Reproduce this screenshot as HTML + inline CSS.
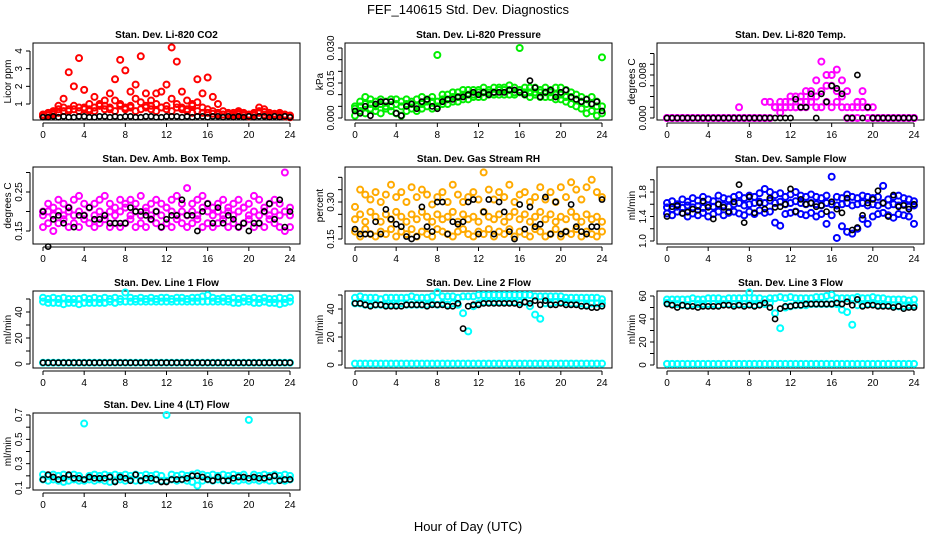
<!DOCTYPE html>
<html><head><meta charset="utf-8"><style>
html,body{margin:0;padding:0;background:#fff;}
svg{display:block;font-family:"Liberation Sans","DejaVu Sans",sans-serif;}
</style></head><body>
<svg id="chart" width="936" height="540" viewBox="0 0 936 540">
<text x="468" y="14" text-anchor="middle" font-size="13">FEF_140615  Std. Dev. Diagnostics</text>
<text x="468" y="531" text-anchor="middle" font-size="13">Hour of Day (UTC)</text>
</svg>
<script>
const hours = [0,0.5,1,1.5,2,2.5,3, 3.5,4,4.5,5,5.5,6,6.5, 7,7.5,8,8.5,9,9.5,10, 10.5,11,11.5,12,12.5,13,13.5, 14,14.5,15,15.5,16,16.5,17, 17.5,18,18.5,19,19.5,20,20.5, 21,21.5,22,22.5,23,23.5,24];
const xTicks = [0,4,8,12,16,20,24];

const co2Hi = [0.4,0.5,0.6,0.9,1.3,2.8,2.0, 3.6,1.8,1.0,1.4,0.9,1.2,1.6, 2.4,3.5,2.9,1.7,2.1,3.7,1.6, 1.2,1.6,1.7,2.1,4.2,3.4,1.7, 1.2,1.0,2.4,1.6,2.5,1.4,1.0, 0.6,0.5,0.5,0.6,0.5,0.4,0.5, 0.8,0.7,0.5,0.4,0.5,0.4,0.3];
const co2Mid = [0.4,0.45,0.5,0.7,0.8,0.6,0.7, 0.6,0.8,0.7,0.6,0.9,0.7,0.8, 0.6,0.9,0.7,0.8,0.6,0.7,0.8, 0.9,0.6,0.8,0.7,0.6,0.8,0.7, 0.6,0.5,0.6,0.5,0.5,0.45,0.4, 0.4,0.45,0.4,0.5,0.45,0.4,0.45, 0.6,0.55,0.4,0.45,0.4,0.4,0.35];
const co2Lo = [0.3,0.35,0.4,0.5,0.6,0.7,0.9, 0.8,0.7,0.6,0.8,1.0,0.9,0.7, 1.2,1.0,0.8,0.9,1.3,1.1,0.9, 0.7,1.0,0.8,0.9,1.3,1.0,0.8, 0.7,0.9,1.1,0.8,0.7,0.6,0.5, 0.4,0.4,0.3,0.4,0.35,0.3,0.35, 0.5,0.4,0.3,0.35,0.3,0.3,0.25];
const co2Black = [0.25,0.25,0.3,0.25,0.3,0.25,0.25, 0.3,0.3,0.25,0.25,0.3,0.3,0.25, 0.3,0.25,0.3,0.3,0.25,0.25,0.3, 0.3,0.25,0.25,0.3,0.3,0.3,0.25, 0.3,0.25,0.3,0.3,0.25,0.3,0.3, 0.25,0.3,0.25,0.3,0.25,0.3,0.25, 0.3,0.3,0.25,0.3,0.25,0.3,0.25];

const presHi = [0.005,0.007,0.009,0.008,0.007,0.008,0.007, 0.008,0.008,0.007,0.008,0.007,0.008,0.009, 0.008,0.009,0.027,0.010,0.010,0.011,0.011, 0.012,0.012,0.012,0.012,0.013,0.012,0.013, 0.013,0.013,0.014,0.013,0.030,0.013,0.013, 0.013,0.012,0.013,0.012,0.013,0.013,0.012, 0.011,0.010,0.009,0.008,0.009,0.007,0.026];
const presMid = [0.004,0.005,0.006,0.006,0.005,0.006,0.005, 0.005,0.006,0.005,0.006,0.006,0.005,0.006, 0.007,0.007,0.007,0.008,0.008,0.009,0.009, 0.010,0.010,0.010,0.011,0.011,0.011,0.011, 0.012,0.012,0.012,0.011,0.012,0.011,0.011, 0.011,0.011,0.011,0.011,0.010,0.010,0.009, 0.009,0.008,0.007,0.006,0.006,0.005,0.005];
const presLo = [0.001,0.003,0.002,0.004,0.003,0.002,0.004, 0.003,0.002,0.001,0.003,0.004,0.003,0.004, 0.005,0.004,0.005,0.006,0.006,0.007,0.007, 0.008,0.008,0.009,0.009,0.009,0.010,0.010, 0.010,0.010,0.010,0.010,0.011,0.010,0.009, 0.010,0.009,0.009,0.009,0.008,0.008,0.007, 0.006,0.005,0.004,0.002,0.003,0.001,0.002];
const presBlack = [0.003,0.002,0.005,0.001,0.006,0.007,0.007, 0.007,0.002,0.001,0.005,0.006,0.004,0.007, 0.008,0.005,0.004,0.007,0.008,0.008,0.009, 0.009,0.010,0.011,0.010,0.011,0.010,0.011, 0.011,0.011,0.012,0.012,0.011,0.010,0.016, 0.013,0.009,0.011,0.012,0.009,0.011,0.012, 0.009,0.008,0.007,0.008,0.006,0.007,0.003];

const tempHi = [0,0,0,0,0,0,0, 0,0,0,0,0,0,0, 0.002,0,0,0,0,0.003,0.003, 0.002,0.003,0.003,0.004,0.004,0.004,0.005, 0.005,0.007,0.0105,0.008,0.008,0.009,0.007, 0.005,0.002,0.003,0.005,0.002,0.002,0, 0,0,0,0,0,0,0];
const tempMid = [0,0,0,0,0,0,0, 0,0,0,0,0,0,0, 0,0,0,0,0,0,0, 0.002,0.002,0.002,0.003,0.002,0.003,0.003, 0.004,0.004,0.005,0.006,0.006,0.005,0.004, 0.002,0.002,0.002,0.003,0.002,0,0, 0,0,0,0,0,0,0];
const tempLo = [0,0,0,0,0,0,0, 0,0,0,0,0,0,0, 0,0,0,0,0,0,0, 0.002,0.001,0.002,0.002,0.002,0.002,0.002, 0.003,0.002,0.002,0.003,0.002,0.003,0.002, 0,0,0,0.002,0,0,0, 0,0,0,0,0,0,0];
const tempBlack = [0,0,0,0,0,0,0, 0,0,0,0,0,0,0, 0,0,0,0,0,0,0, 0,0,0,0,0.0035,0.002,0.002, 0.0045,0,0.0045,0.003,0.006,0.0055,0.0045, 0,0,0.008,0,0.002,0,0, 0,0,0,0,0,0,0];

const ambHi = [0.20,0.22,0.21,0.23,0.22,0.21,0.23, 0.24,0.22,0.21,0.22,0.23,0.24,0.22, 0.21,0.23,0.22,0.23,0.22,0.24,0.21, 0.22,0.23,0.22,0.21,0.23,0.24,0.22, 0.26,0.22,0.23,0.24,0.22,0.21,0.22, 0.23,0.21,0.22,0.23,0.21,0.22,0.24, 0.23,0.21,0.22,0.23,0.22,0.30,0.21];
const ambMid = [0.19,0.20,0.19,0.20,0.19,0.20,0.19, 0.20,0.19,0.21,0.19,0.20,0.19,0.20, 0.19,0.20,0.21,0.19,0.20,0.19,0.20, 0.19,0.20,0.19,0.21,0.20,0.19,0.20, 0.19,0.20,0.19,0.21,0.20,0.19,0.20, 0.19,0.20,0.19,0.20,0.21,0.19,0.20, 0.19,0.20,0.19,0.20,0.19,0.20,0.19];
const ambLo = [0.16,0.17,0.15,0.17,0.18,0.16,0.17, 0.16,0.18,0.17,0.16,0.17,0.18,0.16, 0.17,0.16,0.17,0.18,0.16,0.17,0.16, 0.18,0.17,0.16,0.17,0.16,0.18,0.17, 0.16,0.17,0.18,0.16,0.17,0.16,0.17, 0.18,0.16,0.17,0.16,0.17,0.18,0.16, 0.17,0.16,0.18,0.17,0.16,0.15,0.16];
const ambBlack = [0.20,0.11,0.18,0.19,0.17,0.21,0.16, 0.19,0.19,0.21,0.18,0.18,0.19,0.17, 0.17,0.17,0.17,0.21,0.20,0.20,0.19, 0.18,0.20,0.16,0.18,0.19,0.19,0.23, 0.19,0.19,0.15,0.20,0.22,0.17,0.21, 0.17,0.19,0.18,0.16,0.17,0.15,0.17, 0.17,0.20,0.22,0.18,0.23,0.16,0.20];

const rhHi = [0.28,0.35,0.33,0.31,0.34,0.30,0.33, 0.37,0.32,0.34,0.30,0.36,0.32,0.35, 0.33,0.29,0.32,0.34,0.30,0.37,0.33, 0.30,0.32,0.34,0.31,0.42,0.35,0.31, 0.34,0.32,0.37,0.30,0.33,0.34,0.30, 0.32,0.36,0.31,0.34,0.30,0.36,0.32, 0.38,0.35,0.31,0.36,0.39,0.34,0.32];
const rhMid = [0.23,0.25,0.22,0.26,0.24,0.22,0.25, 0.23,0.26,0.24,0.22,0.25,0.23,0.26, 0.24,0.22,0.25,0.23,0.24,0.26,0.22, 0.25,0.23,0.24,0.22,0.26,0.24,0.23, 0.25,0.22,0.24,0.26,0.23,0.25,0.22, 0.24,0.26,0.23,0.25,0.22,0.24,0.23, 0.26,0.24,0.22,0.25,0.23,0.24,0.22];
const rhLo = [0.18,0.16,0.19,0.17,0.16,0.18,0.17, 0.19,0.16,0.18,0.17,0.19,0.16,0.18, 0.17,0.16,0.19,0.18,0.17,0.16,0.18, 0.19,0.17,0.16,0.18,0.17,0.19,0.16, 0.18,0.17,0.19,0.16,0.18,0.17,0.16, 0.19,0.18,0.16,0.17,0.19,0.16,0.18, 0.17,0.19,0.16,0.18,0.17,0.16,0.18];
const rhBlack = [0.19,0.17,0.17,0.17,0.22,0.17,0.27, 0.23,0.21,0.20,0.16,0.15,0.16,0.28, 0.20,0.18,0.30,0.30,0.17,0.22,0.21, 0.22,0.30,0.31,0.17,0.26,0.31,0.17, 0.30,0.26,0.18,0.15,0.29,0.19,0.28, 0.20,0.21,0.32,0.17,0.30,0.17,0.18, 0.29,0.20,0.18,0.17,0.20,0.20,0.31];

const flowHi = [1.62,1.65,1.60,1.68,1.64,1.70,1.66, 1.72,1.68,1.65,1.74,1.70,1.68,1.72, 1.75,1.70,1.74,1.72,1.78,1.85,1.80, 1.75,1.78,1.72,1.76,1.80,1.74,1.72, 1.76,1.72,1.70,1.74,2.05,1.72,1.70, 1.76,1.72,1.70,1.74,1.72,1.70,1.72, 1.90,1.68,1.72,1.74,1.70,1.68,1.65];
const flowMid = [1.55,1.52,1.56,1.54,1.58,1.55,1.57, 1.54,1.58,1.56,1.60,1.58,1.56,1.60, 1.62,1.58,1.60,1.62,1.64,1.62,1.66, 1.62,1.64,1.60,1.62,1.65,1.62,1.60, 1.62,1.60,1.58,1.62,1.60,1.58,1.60, 1.62,1.58,1.60,1.62,1.58,1.60,1.58, 1.62,1.58,1.60,1.58,1.60,1.56,1.58];
const flowLo = [1.45,1.42,1.48,1.46,1.40,1.45,1.42, 1.46,1.40,1.44,1.48,1.42,1.46,1.48, 1.45,1.42,1.48,1.44,1.50,1.46,1.48, 1.30,1.25,1.44,1.46,1.48,1.44,1.42, 1.46,1.40,1.44,1.28,1.42,1.05,1.24, 1.15,1.12,1.20,1.36,1.28,1.40,1.44, 1.46,1.42,1.38,1.44,1.42,1.40,1.28];
const flowBlack = [1.40,1.56,1.58,1.45,1.47,1.52,1.50, 1.65,1.55,1.36,1.60,1.55,1.48,1.64, 1.92,1.30,1.72,1.46,1.62,1.52,1.70, 1.55,1.56,1.60,1.85,1.48,1.68,1.60, 1.62,1.56,1.58,1.48,1.64,1.52,1.46, 1.70,1.18,1.22,1.42,1.62,1.68,1.82, 1.62,1.40,1.75,1.56,1.58,1.52,1.60];

const l1Hi = [51,50,51,50,51,50,50, 50,51,50,51,50,51,50, 51,50,55,51,50,51,50, 51,50,51,51,50,51,51, 50,51,51,52,53,51,50, 51,50,51,50,51,50,51, 50,51,50,50,51,50,51];
const l1Lo = [48,47,47,47,46,47,47, 46,47,47,47,47,47,48, 47,48,48,48,48,48,48, 48,48,48,48,48,48,48, 48,48,48,48,48,48,48, 48,48,47,47,48,48,47, 47,48,47,47,46,47,48];
const l1Zero = [1,1,1,1,1,1,1, 1,1,1,1,1,1,1, 1,1,1,1,1,1,1, 1,1,1,1,1,1,1, 1,1,1,1,1,1,1, 1,1,1,1,1,1,1, 1,1,1,1,1,1,1];
const l1Black = [1,1,1,1,1,1,1, 1,1,1,1,1,1,1, 1,1,1,1,1,1,1, 1,1,1,1,1,1,1, 1,1,1,1,1,1,1, 1,1,1,1,1,1,1, 1,1,1,1,1,1,1];

const l2Hi = [48,49,48,48,48,47,48, 48,48,48,48,49,48,48, 48,49,52,49,49,49,48, 49,49,49,50,50,50,50, 50,50,50,50,50,50,50, 49,49,49,49,49,49,48, 48,48,48,48,48,48,47];
const l2Lo = [44,44,43,43,43,43,43, 43,43,44,43,43,43,43, 43,44,43,44,43,44,43, 37,24,42,44,45,45,45, 45,45,45,45,45,45,42, 36,33,44,44,45,45,45, 44,44,44,43,44,44,44];
const l2Zero = l1Zero;
const l2Black = [44,44,43,42,43,43,42, 42,42,42,43,43,43,43, 42,43,43,43,42,42,44, 26,42,43,43,44,44,44, 44,44,44,44,43,45,44, 46,43,46,43,43,44,43, 43,43,42,42,41,41,42];

const l3Hi = [57,57,57,57,57,58,57, 57,58,58,58,57,58,58, 58,58,63,58,58,57,58, 58,59,58,59,58,58,58, 58,59,59,60,61,58,58, 58,58,59,58,58,59,58, 58,57,57,57,57,56,57];
const l3Lo = [54,53,53,52,52,53,53, 53,53,53,52,53,53,53, 53,53,53,52,53,53,54, 45,32,50,51,52,52,52, 53,53,53,53,53,53,48, 46,35,52,52,53,53,52, 52,52,52,51,51,52,52];
const l3Zero = l1Zero;
const l3Black = [53,52,50,52,51,51,50, 51,51,51,51,52,52,51, 52,51,52,51,52,54,50, 40,49,51,51,52,52,53, 53,53,53,53,53,54,53, 55,52,57,51,52,52,51, 51,51,50,51,49,50,50];

const l4Hi = [0.21,0.20,0.21,0.20,0.21,0.20,0.21, 0.20,0.63,0.20,0.21,0.20,0.21,0.20, 0.21,0.20,0.21,0.20,0.21,0.20,0.21, 0.20,0.21,0.20,0.70,0.21,0.20,0.21, 0.20,0.21,0.22,0.21,0.20,0.21,0.20, 0.21,0.20,0.21,0.20,0.21,0.66,0.21, 0.20,0.21,0.20,0.21,0.20,0.21,0.20];
const l4Lo = [0.17,0.16,0.17,0.16,0.15,0.16,0.17, 0.16,0.16,0.17,0.16,0.17,0.16,0.15, 0.16,0.17,0.16,0.17,0.16,0.16,0.17, 0.16,0.17,0.16,0.16,0.17,0.16,0.17, 0.16,0.15,0.12,0.16,0.17,0.16,0.17, 0.16,0.17,0.16,0.16,0.17,0.16,0.17, 0.16,0.17,0.16,0.16,0.17,0.16,0.17];
const l4Black = [0.17,0.21,0.19,0.17,0.18,0.21,0.18, 0.18,0.17,0.19,0.18,0.18,0.18,0.19, 0.15,0.19,0.18,0.16,0.21,0.16,0.18, 0.18,0.17,0.15,0.15,0.17,0.17,0.17, 0.18,0.20,0.20,0.19,0.17,0.16,0.19, 0.16,0.16,0.18,0.19,0.19,0.18,0.19, 0.18,0.18,0.19,0.20,0.16,0.17,0.17];

const panels = [
 {name:'co2',title:'Stan. Dev. Li-820 CO2',ylab:'Licor ppm',col:0,row:0,v1:1,p1:104,v2:4,p2:51,ticks:[1,2,3,4],labels:['1','2','3','4'],series:[[co2Lo,'#ff0000'],[co2Mid,'#ff0000'],[co2Hi,'#ff0000'],[co2Black,'#000000']]},
 {name:'pressure',title:'Stan. Dev. Li-820 Pressure',ylab:'kPa',col:1,row:0,v1:0,p1:118,v2:0.03,p2:48,ticks:[0,0.005,0.01,0.015,0.02,0.025,0.03],labels:['0.000','','','0.015','','','0.030'],series:[[presLo,'#00ee00'],[presMid,'#00ee00'],[presHi,'#00ee00'],[presBlack,'#000000']]},
 {name:'temp',title:'Stan. Dev. Li-820 Temp.',ylab:'degrees C',col:2,row:0,v1:0,p1:118,v2:0.008,p2:75,ticks:[0,0.002,0.004,0.006,0.008,0.010,0.012],labels:['0.000','','','','0.008','',''],series:[[tempLo,'#ff00ff'],[tempMid,'#ff00ff'],[tempHi,'#ff00ff'],[tempBlack,'#000000']]},
 {name:'amb-box-temp',title:'Stan. Dev. Amb. Box Temp.',ylab:'degrees C',col:0,row:1,v1:0.15,p1:231,v2:0.25,p2:192,ticks:[0.15,0.2,0.25,0.3],labels:['0.15','','0.25',''],series:[[ambLo,'#ff00ff'],[ambMid,'#ff00ff'],[ambHi,'#ff00ff'],[ambBlack,'#000000']]},
 {name:'gas-stream-rh',title:'Stan. Dev. Gas Stream RH',ylab:'percent',col:1,row:1,v1:0.15,p1:239,v2:0.30,p2:202,ticks:[0.15,0.2,0.25,0.3,0.35,0.4],labels:['0.15','','','0.30','',''],series:[[rhLo,'#ffaa00'],[rhMid,'#ffaa00'],[rhHi,'#ffaa00'],[rhBlack,'#000000']]},
 {name:'sample-flow',title:'Stan. Dev. Sample Flow',ylab:'ml/min',col:2,row:1,v1:1.0,p1:241,v2:1.8,p2:192,ticks:[1.0,1.2,1.4,1.6,1.8,2.0],labels:['1.0','','1.4','','1.8',''],series:[[flowLo,'#0000ff'],[flowMid,'#0000ff'],[flowHi,'#0000ff'],[flowBlack,'#000000']]},
 {name:'line1-flow',title:'Stan. Dev. Line 1 Flow',ylab:'ml/min',col:0,row:2,v1:0,p1:364,v2:40,p2:312,ticks:[0,10,20,30,40,50],labels:['0','','20','','40',''],series:[[l1Lo,'#00ffff'],[l1Hi,'#00ffff'],[l1Zero,'#00ffff'],[l1Black,'#000000']]},
 {name:'line2-flow',title:'Stan. Dev. Line 2 Flow',ylab:'ml/min',col:1,row:2,v1:0,p1:365,v2:40,p2:309,ticks:[0,10,20,30,40,50],labels:['0','','20','','40',''],series:[[l2Lo,'#00ffff'],[l2Hi,'#00ffff'],[l2Zero,'#00ffff'],[l2Black,'#000000']]},
 {name:'line3-flow',title:'Stan. Dev. Line 3 Flow',ylab:'ml/min',col:2,row:2,v1:0,p1:365,v2:60,p2:296,ticks:[0,10,20,30,40,50,60],labels:['0','','20','','40','','60'],series:[[l3Lo,'#00ffff'],[l3Hi,'#00ffff'],[l3Zero,'#00ffff'],[l3Black,'#000000']]},
 {name:'line4-flow',title:'Stan. Dev. Line 4 (LT) Flow',ylab:'ml/min',col:0,row:3,v1:0.1,p1:488,v2:0.7,p2:415,ticks:[0.1,0.2,0.3,0.4,0.5,0.6,0.7],labels:['0.1','','0.3','','0.5','','0.7'],series:[[l4Lo,'#00ffff'],[l4Hi,'#00ffff'],[l4Black,'#000000']]}
];

const NS='http://www.w3.org/2000/svg';
const svg=document.getElementById('chart');
const rowTops=[43,167,291,413];
function mk(tag,attrs,parent){const e=document.createElementNS(NS,tag);for(const k in attrs)e.setAttribute(k,attrs[k]);(parent||svg).appendChild(e);return e;}

panels.forEach(p=>{
  const g=mk('g',{});
  
  
  const L=33+312*p.col, R=300+312*p.col, T=rowTops[p.row], B=T+77;
  const x0=43+312*p.col;
  const xs=h=>x0+h*(247/24);
  const ys=v=>p.p1+(v-p.v1)*(p.p2-p.p1)/(p.v2-p.v1);
  const t=mk('text',{x:(L+R)/2,y:T-5,'text-anchor':'middle','font-size':'10','font-weight':'bold'},g);
  t.textContent=p.title;
  
  
  const box=mk('rect',{x:L,y:T,width:R-L,height:B-T,fill:'none',stroke:'#000','stroke-width':1},g);
  
  
  const xa=mk('g',{},g);
  
  
  mk('line',{x1:xs(0),x2:xs(24),y1:B+3,y2:B+3,stroke:'#000'},xa);
  xTicks.forEach(h=>{
    mk('line',{x1:xs(h),x2:xs(h),y1:B+3,y2:B+7,stroke:'#000'},xa);
    const l=mk('text',{x:xs(h),y:B+18,'text-anchor':'middle','font-size':'10'},xa);
    l.textContent=h;
    
    
  });
  const ya=mk('g',{},g);
  
  
  const ax=L-3;
  mk('line',{x1:ax,x2:ax,y1:ys(p.ticks[0]),y2:ys(p.ticks[p.ticks.length-1]),stroke:'#000'},ya);
  p.ticks.forEach((v,i)=>{
    const y=ys(v);
    mk('line',{x1:ax-4,x2:ax,y1:y,y2:y,stroke:'#000'},ya);
    if(p.labels[i]){
      const l=mk('text',{x:ax-8,y:y,'text-anchor':'middle','font-size':'10',transform:`rotate(-90 ${ax-8} ${y})`},ya);
      l.textContent=p.labels[i];
      
      
    }
  });
  const yl=mk('text',{x:L-22,y:(T+B)/2,'text-anchor':'middle','font-size':'10',transform:`rotate(-90 ${L-22} ${(T+B)/2})`},g);
  yl.textContent=p.ylab;
  
  
  p.series.forEach(([vals,color])=>{
    const isBlack = color==='#000000';
    const sg=mk('g',{},g);
    
    
    const n=Math.min(vals.length,hours.length);
    for(let i=0;i<n;i++){
      const c=mk('circle',{cx:xs(hours[i]),cy:ys(vals[i]),r:isBlack?2.6:3.0,fill:'none',stroke:color,'stroke-width':isBlack?1.6:2.0},sg);
      
      
    }
  });
});
</script>
</body></html>
